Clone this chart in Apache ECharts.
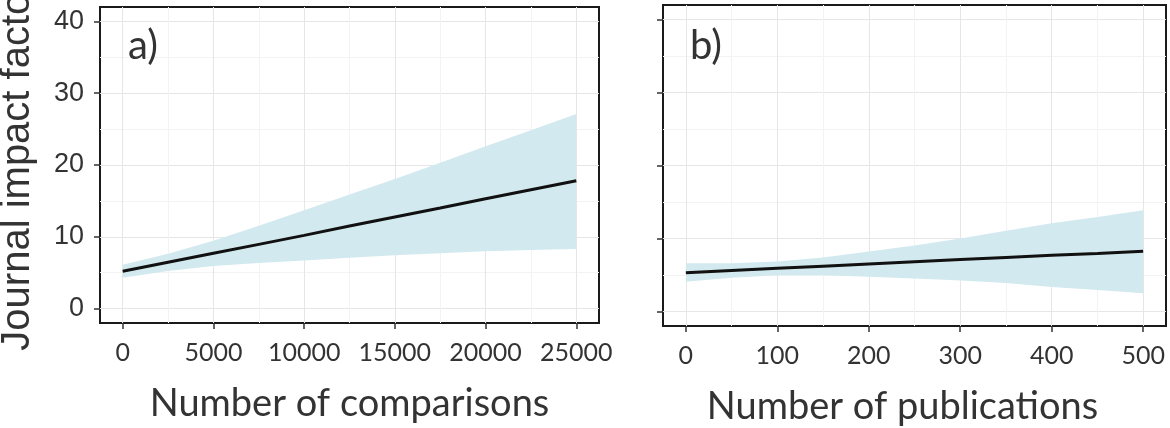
<!DOCTYPE html>
<html>
<head>
<meta charset="utf-8">
<script src="https://cdn.jsdelivr.net/npm/echarts@6/dist/echarts.min.js"></script>
<style>
  html, body { margin: 0; padding: 0; background: #fff; }
  #chart { width: 1170px; height: 428px; }
</style>
</head>
<body>
<div id="chart"></div>
<script>
// panel a: number of comparisons
const compX = [0, 2500, 5000, 7500, 10000, 12500, 15000, 17500, 20000, 22500, 25000]
const compFit = [5.2, 6.45, 7.7, 8.95, 10.2, 11.5, 12.75, 14.0, 15.3, 16.55, 17.8]
const compUpper = [6.1, 7.65, 9.45, 11.55, 13.7, 15.9, 18.05, 20.3, 22.6, 24.85, 27.1]
const compLower = [4.3, 5.25, 5.95, 6.35, 6.7, 7.1, 7.45, 7.7, 8.0, 8.15, 8.3]

// panel b: number of publications
const pubX = [0, 50, 100, 150, 200, 250, 300, 350, 400, 450, 500]
const pubFit = [5.3, 5.6, 5.9, 6.2, 6.5, 6.8, 7.1, 7.4, 7.7, 7.95, 8.25]
const pubUpper = [6.6, 6.6, 6.85, 7.4, 8.2, 9.05, 10.0, 11.05, 12.1, 12.95, 13.85]
const pubLower = [4.05, 4.6, 4.95, 4.95, 4.75, 4.5, 4.25, 3.9, 3.35, 2.95, 2.5]

// ticks
const compTicks = [0, 5000, 10000, 15000, 20000, 25000]
const compMinor = [2500, 7500, 12500, 17500, 22500]
const pubTicks = [0, 100, 200, 300, 400, 500]
const pubMinor = [50, 150, 250, 350, 450]
const yTicks = [0, 10, 20, 30, 40]
const yMinor = [5, 15, 25, 35]

const panelLabels = ['a)', 'b)']
const xTitles = ['Number of comparisons', 'Number of publications']
const yTitle = 'Journal impact factor'

const CAL = 'Lato, "Open Sans", sans-serif'
const ARI = '"Liberation Sans", Arial, sans-serif'
const TXT = '#333'
const BAND = '#d2eaef'

const chart = echarts.init(document.getElementById('chart'), null, { renderer: 'canvas' })

function pairs(xs, ys) {
  return xs.map((x, i) => [x, ys[i]])
}

function mainX(grid, min, max, ticks, name, namePad) {
  return {
    type: 'value', gridIndex: grid, min, max,
    name, nameLocation: 'middle', nameGap: 62, nameMoveOverlap: false,
    nameTextStyle: { fontFamily: CAL, fontSize: 38, color: TXT, padding: namePad },
    axisLine: { show: false, onZero: false },
    axisTick: { show: true, length: 6, customValues: ticks, lineStyle: { color: '#333', width: 1.5 } },
    axisLabel: { customValues: ticks, margin: 17, fontFamily: CAL, fontSize: 25, color: TXT, formatter: v => String(v) },
    splitLine: { show: true, customValues: ticks, lineStyle: { color: '#e6e6e6', width: 1 } },
  }
}

function minorX(grid, min, max, ticks) {
  return {
    type: 'value', gridIndex: grid, min, max,
    axisLine: { show: false, onZero: false },
    axisTick: { show: false, customValues: ticks },
    axisLabel: { show: false, customValues: ticks },
    splitLine: { show: true, customValues: ticks, lineStyle: { color: '#f3f3f3', width: 1 } },
  }
}

function mainY(grid, showLabels, name) {
  return {
    type: 'value', gridIndex: grid, min: -2, max: 42,
    name, nameLocation: 'middle', nameGap: 62, nameRotate: 90, nameMoveOverlap: false,
    nameTextStyle: { fontFamily: ARI, fontSize: 40, color: TXT },
    axisLine: { show: false, onZero: false },
    axisTick: { show: true, length: 6, customValues: yTicks, lineStyle: { color: '#333', width: 1.5 } },
    axisLabel: { show: showLabels, customValues: yTicks, margin: 16, fontFamily: ARI, fontSize: 27, color: TXT },
    splitLine: { show: true, customValues: yTicks, lineStyle: { color: '#e6e6e6', width: 1 } },
  }
}

function minorY(grid) {
  return {
    type: 'value', gridIndex: grid, min: -2, max: 42,
    axisLine: { show: false, onZero: false },
    axisTick: { show: false, customValues: yMinor },
    axisLabel: { show: false, customValues: yMinor },
    splitLine: { show: true, customValues: yMinor, lineStyle: { color: '#f3f3f3', width: 1 } },
  }
}

// confidence band as one polygon through the axis scales
function bandSeries(xi, yi, xs, lower, upper) {
  return {
    type: 'custom', coordinateSystem: 'cartesian2d', xAxisIndex: xi, yAxisIndex: yi,
    silent: true, clip: false, z: 2,
    data: [[xs[0], lower[0]]],
    renderItem: (params, api) => {
      const top = xs.map((x, i) => api.coord([x, upper[i]]))
      const bottom = xs.map((x, i) => api.coord([x, lower[i]])).reverse()
      return {
        type: 'polygon',
        shape: { points: top.concat(bottom) },
        style: { fill: BAND, stroke: null },
      }
    },
  }
}

function fitSeries(xi, yi, xs, ys) {
  return {
    type: 'line', xAxisIndex: xi, yAxisIndex: yi,
    showSymbol: false, silent: true,
    lineStyle: { color: '#111', width: 3 },
    data: pairs(xs, ys),
    z: 5,
  }
}

const option = {
  backgroundColor: '#fff',
  animation: false,
  title: [
    { text: panelLabels[0], left: 128, top: 26, padding: 0, textStyle: { fontFamily: CAL, fontSize: 40, fontWeight: 'normal', color: TXT } },
    { text: panelLabels[1], left: 690, top: 26, padding: 0, textStyle: { fontFamily: CAL, fontSize: 40, fontWeight: 'normal', color: TXT } },
  ],
  grid: [
    { left: 100, top: 7, width: 499, height: 316, outerBoundsMode: 'none', containLabel: false, show: true, borderColor: '#1a1a1a', borderWidth: 2, backgroundColor: 'transparent' },
    { left: 663, top: 5, width: 503, height: 321, outerBoundsMode: 'none', containLabel: false, show: true, borderColor: '#1a1a1a', borderWidth: 2, backgroundColor: 'transparent' },
  ],
  xAxis: [
    mainX(0, -1250, 26250, compTicks, xTitles[0], 0),
    minorX(0, -1250, 26250, compMinor),
    mainX(1, -25, 525, pubTicks, xTitles[1], [0, 24, 0, 0]),
    minorX(1, -25, 525, pubMinor),
  ],
  yAxis: [
    mainY(0, true, yTitle),
    minorY(0),
    mainY(1, false, ''),
    minorY(1),
  ],
  series: [
    bandSeries(0, 0, compX, compLower, compUpper),
    fitSeries(0, 0, compX, compFit),
    bandSeries(2, 2, pubX, pubLower, pubUpper),
    fitSeries(2, 2, pubX, pubFit),
  ],
}

chart.setOption(option)
window.addEventListener('resize', () => chart.resize())
</script>
</body>
</html>
